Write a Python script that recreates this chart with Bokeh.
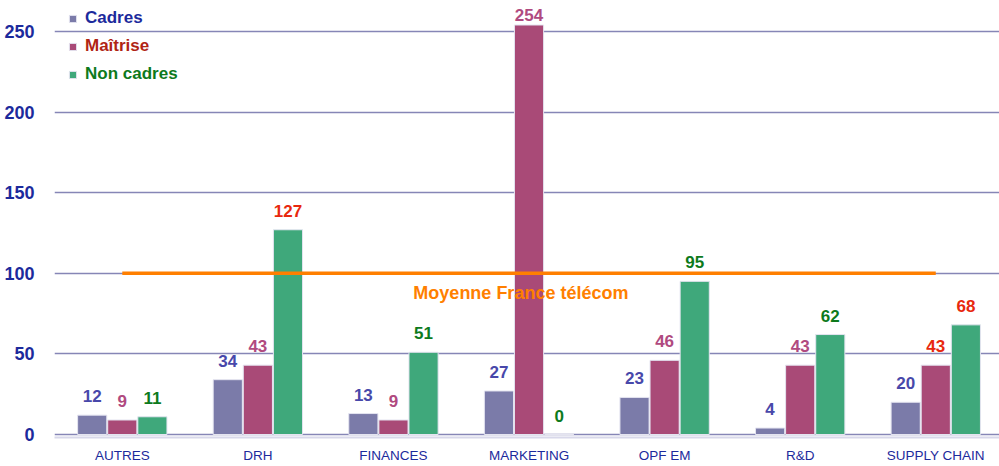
from bokeh.plotting import figure
from bokeh.models import (ColumnDataSource, Range1d, FixedTicker, Legend, LegendItem)
from bokeh.embed import file_html
from bokeh.resources import INLINE
from bokeh.core.properties import value

categories = ["AUTRES", "DRH", "FINANCES", "MARKETING", "OPF EM", "R&D", "SUPPLY CHAIN"]
cadres = [12, 34, 13, 27, 23, 4, 20]
maitrise = [9, 43, 9, 254, 46, 43, 43]
non_cadres = [11, 127, 51, 0, 95, 62, 68]
moyenne = 100
moyenne_label = "Moyenne France télécom"
series_names = ["Cadres", "Maîtrise", "Non cadres"]
y_ticks = [0, 50, 100, 150, 200, 250]

bar_colors = ["#7b7ba9", "#a94a77", "#3fa87b"]
legend_text_colors = ["#1c2a9c", "#b02414", "#0d7a1c"]
RED = "#e8280e"
cadres_label_colors = ["#4848aa"] * 7
maitrise_label_colors = ["#b04a80"] * 6 + [RED]
non_cadres_label_colors = ["#0d7a1c", RED, "#0d7a1c", "#0d7a1c", "#0d7a1c", "#0d7a1c", RED]

FONT = "Liberation Sans"

p = figure(width=999, height=466, output_backend="svg", toolbar_location=None,
           x_range=Range1d(-0.5, 6.47), y_range=Range1d(-1.86, 269.2),
           min_border_left=54, min_border_right=0, min_border_top=0, min_border_bottom=29,
           background_fill_color="white", border_fill_color="white")
p.outline_line_color = None

xs = list(range(len(categories)))
offset = 0.222
width = 0.215

series = [cadres, maitrise, non_cadres]
label_colors = [cadres_label_colors, maitrise_label_colors, non_cadres_label_colors]
renderers = []
for i, (vals, col, lcols) in enumerate(zip(series, bar_colors, label_colors)):
    xpos = [x + (i - 1) * offset for x in xs]
    # labels near the top edge sit closer to their bar so they stay inside
    yoff = [-10 if v > 240 else -19 for v in vals]
    src = ColumnDataSource(dict(x=xpos, top=vals, txt=[str(v) for v in vals],
                                tc=lcols, yo=yoff))
    r = p.vbar(x="x", top="top", bottom=0, width=width, source=src,
               fill_color=col, line_color="#e4e4f0", line_width=1)
    renderers.append(r)
    p.text(x="x", y="top", text="txt", source=src, text_color="tc",
           text_align="center", text_baseline="middle", y_offset="yo",
           text_font=value(FONT), text_font_style="bold", text_font_size="17px")

# average line
avg_src = ColumnDataSource(dict(x=[xs[0], xs[-1]], y=[moyenne, moyenne]))
p.line(x="x", y="y", source=avg_src, line_color="#ff7f00", line_width=3.5)
p.text(x=[2.94], y=[moyenne], text=[moyenne_label], text_color="#ff7f00",
       text_align="center", text_baseline="middle", y_offset=20,
       text_font=value(FONT), text_font_style="bold", text_font_size="18px")

# axes
p.yaxis.ticker = FixedTicker(ticks=y_ticks)
p.yaxis.axis_line_color = None
p.yaxis.major_tick_line_color = None
p.yaxis.minor_tick_line_color = None
p.yaxis.major_label_standoff = 14
p.yaxis.major_label_text_font = FONT
p.yaxis.major_label_text_font_style = "bold"
p.yaxis.major_label_text_font_size = "18px"
p.yaxis.major_label_text_color = "#1c2a9c"

p.xaxis.ticker = FixedTicker(ticks=xs)
p.xaxis.major_label_overrides = {x: c for x, c in zip(xs, categories)}
p.xaxis.axis_line_color = "#d8d8ea"
p.xaxis.axis_line_width = 2
p.xaxis.major_tick_line_color = None
p.xaxis.minor_tick_line_color = None
p.xaxis.major_tick_out = 0
p.xaxis.major_label_standoff = 10
p.xaxis.major_label_text_font = FONT
p.xaxis.major_label_text_font_size = "13.5px"
p.xaxis.major_label_text_color = "#1c2a9c"

p.xgrid.grid_line_color = None
p.ygrid.grid_line_color = "#8686b6"
p.ygrid.grid_line_width = 1.5

# legends: one per series to allow per-item text colours
for i, (name, r, tc) in enumerate(zip(series_names, renderers, legend_text_colors)):
    leg = Legend(items=[LegendItem(label=name, renderers=[r])],
                 location=(14, 409 - i * 28),
                 background_fill_color="white", background_fill_alpha=1,
                 border_line_color=None, padding=2, margin=0,
                 glyph_width=9, glyph_height=9, label_standoff=8,
                 label_text_font=FONT, label_text_font_style="bold",
                 label_text_font_size="17px", label_text_color=tc,
                 label_width=110, label_height=20)
    p.add_layout(leg)

open("out.html", "w").write(file_html(p, INLINE))
